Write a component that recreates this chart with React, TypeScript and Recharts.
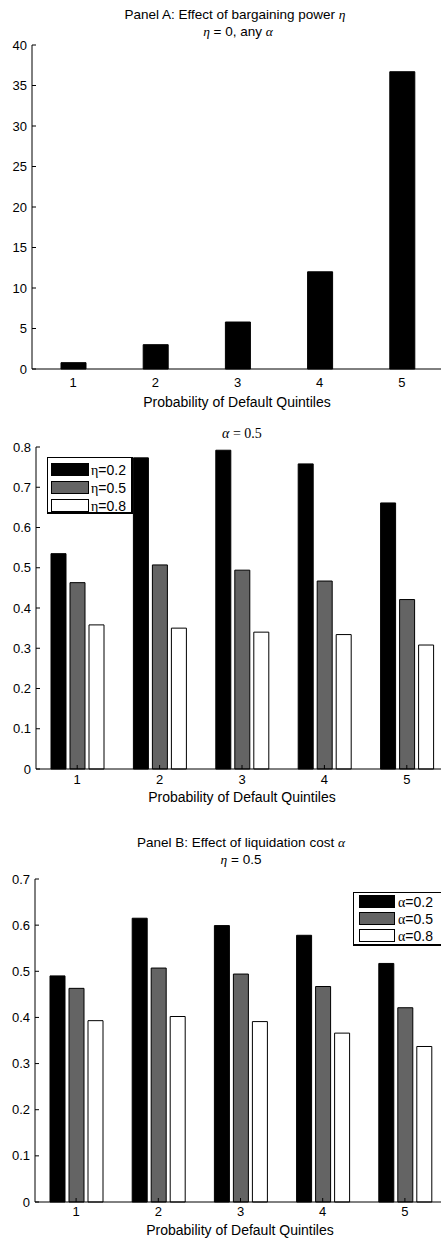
import React from "react";
import { BarChart, Bar, XAxis, YAxis } from "recharts";

const quintiles = ["1", "2", "3", "4", "5"];

// Panel A, top: eta = 0, any alpha
const etaZero = [0.78, 3.0, 5.8, 12.0, 36.7];

// Panel A, bottom: alpha = 0.5
const eta02 = [0.535, 0.773, 0.792, 0.758, 0.661];
const eta05 = [0.463, 0.507, 0.494, 0.467, 0.421];
const eta08 = [0.358, 0.35, 0.34, 0.334, 0.308];

// Panel B: eta = 0.5
const alpha02 = [0.49, 0.615, 0.599, 0.578, 0.517];
const alpha05 = [0.463, 0.507, 0.494, 0.467, 0.421];
const alpha08 = [0.393, 0.402, 0.391, 0.366, 0.337];

const ticksA = [0, 5, 10, 15, 20, 25, 30, 35, 40];
const ticksB = [0, 0.1, 0.2, 0.3, 0.4, 0.5, 0.6, 0.7, 0.8];
const ticksC = [0, 0.1, 0.2, 0.3, 0.4, 0.5, 0.6, 0.7];

const SANS = '"Liberation Sans", Arial, Helvetica, sans-serif';
const SERIF = '"Liberation Serif", "Times New Roman", serif';
const GRAY = "#646464";

const rowsA = quintiles.map((q, i) => ({ q, v: etaZero[i] }));
const rowsB = quintiles.map((q, i) => ({ q, a: eta02[i], b: eta05[i], c: eta08[i] }));
const rowsC = quintiles.map((q, i) => ({ q, a: alpha02[i], b: alpha05[i], c: alpha08[i] }));

type Series = { key: string; color: string };

const fmtDec = (v: number) => (v === 0 ? "0" : v.toFixed(1));

interface PanelProps {
  top: number;
  left: number;
  width: number;
  height: number;
  rows: any[];
  series: Series[];
  max: number;
  ticks: number[];
  barSize: number;
  barGap?: number;
  xMargin: number;
  fmt?: (v: number) => string;
}

const Panel = ({ top, left, width, height, rows, series, max, ticks, barSize, barGap = 4, xMargin, fmt }: PanelProps) => {
  const mt = 10;
  const xh = 24;
  const mb = 4;
  const tickStyle = { fill: "#000", fontSize: 13, fontFamily: SANS };
  return (
    <div style={{ position: "absolute", top: top - mt, left: 0 }}>
      <BarChart
        width={left + width + 10}
        height={mt + height + xh + mb}
        data={rows}
        margin={{ top: mt, right: 10, bottom: mb, left: 0 }}
        barSize={barSize}
        barGap={barGap}
      >
        <XAxis
          dataKey="q"
          xAxisId="b"
          orientation="bottom"
          height={xh}
          tickSize={-4}
          tickMargin={xMargin}
          stroke="#000"
          tick={tickStyle}
        />
        <XAxis
          dataKey="q"
          xAxisId="t"
          orientation="top"
          height={0}
          tickSize={-4}
          tickFormatter={() => ""}
          stroke="#000"
        />
        <YAxis
          yAxisId="l"
          width={left}
          domain={[0, max]}
          ticks={ticks}
          interval={0}
          tickSize={-4}
          tickMargin={9}
          stroke="#000"
          tick={tickStyle}
          tickFormatter={fmt}
        />
        <YAxis
          yAxisId="r"
          orientation="right"
          width={0}
          domain={[0, max]}
          ticks={ticks}
          interval={0}
          tickSize={-4}
          tickFormatter={() => ""}
          stroke="#000"
        />
        {series.map((s) => (
          <Bar
            key={s.key}
            xAxisId="b"
            yAxisId="l"
            dataKey={s.key}
            fill={s.color}
            stroke="#000"
            strokeWidth={1}
            isAnimationActive={false}
          />
        ))}
      </BarChart>
    </div>
  );
};

const Txt = ({ x, y, size = 13.5, family = SANS, children }: { x: number; y: number; size?: number; family?: string; children: React.ReactNode }) => (
  <div
    style={{
      position: "absolute",
      left: x,
      top: y,
      transform: "translate(-50%, -50%)",
      fontFamily: family,
      fontSize: size,
      lineHeight: 1,
      whiteSpace: "nowrap",
      color: "#000",
    }}
  >
    {children}
  </div>
);

const Sym = ({ children, italic = true }: { children: React.ReactNode; italic?: boolean }) => (
  <span style={{ fontFamily: SERIF, fontStyle: italic ? "italic" : "normal" }}>{children}</span>
);

interface LegendItem { sym: string; label: string; color: string }

const LegendBox = ({ left, top, width, height, rowY, swX, swW, txtX, items }: {
  left: number; top: number; width: number; height: number; rowY: number[]; swX: number; swW: number; txtX: number; items: LegendItem[];
}) => (
  <div
    style={{
      position: "absolute",
      left,
      top,
      width,
      height,
      boxSizing: "border-box",
      background: "#fff",
      borderTop: "1px solid #000",
      borderLeft: "1px solid #000",
      borderRight: "2px solid #000",
      borderBottom: "2px solid #000",
    }}
  >
    {items.map((it, i) => (
      <React.Fragment key={it.label}>
        <div
          style={{
            position: "absolute",
            left: swX,
            top: rowY[i] - 7,
            width: swW,
            height: 13,
            boxSizing: "border-box",
            background: it.color,
            border: "1px solid #000",
          }}
        />
        <div
          style={{
            position: "absolute",
            left: txtX,
            top: rowY[i] - 8,
            fontFamily: SANS,
            fontSize: 14,
            lineHeight: "16px",
            whiteSpace: "nowrap",
            color: "#000",
          }}
        >
          <Sym italic={false}>{it.sym}</Sym>
          {it.label}
        </div>
      </React.Fragment>
    ))}
  </div>
);

const three: Series[] = [
  { key: "a", color: "#000" },
  { key: "b", color: GRAY },
  { key: "c", color: "#fff" },
];

export default function App() {
  return (
    <div
      style={{
        position: "absolute",
        left: 0,
        top: 0,
        width: 441,
        height: 1243,
        overflow: "hidden",
        background: "#fff",
      }}
    >
      <Panel
        top={45}
        left={32}
        width={411}
        height={324}
        rows={rowsA}
        series={[{ key: "v", color: "#000" }]}
        max={40}
        ticks={ticksA}
        barSize={25}
        xMargin={13}
      />
      <Panel
        top={447}
        left={36}
        width={412}
        height={322}
        rows={rowsB}
        series={three}
        max={0.8}
        ticks={ticksB}
        barSize={15}
        barGap={4}
        xMargin={10}
        fmt={fmtDec}
      />
      <Panel
        top={879}
        left={35}
        width={411}
        height={323}
        rows={rowsC}
        series={three}
        max={0.7}
        ticks={ticksC}
        barSize={15}
        barGap={4}
        xMargin={9}
        fmt={fmtDec}
      />

      <Txt x={235} y={15}>
        Panel A: Effect of bargaining power <Sym>η</Sym>
      </Txt>
      <Txt x={238} y={32}>
        <Sym>η</Sym> = 0, any <Sym>α</Sym>
      </Txt>
      <Txt x={237} y={402} size={14}>Probability of Default Quintiles</Txt>

      <Txt x={242} y={434} size={14} family={SERIF}>
        <Sym>α</Sym> = 0.5
      </Txt>
      <Txt x={242} y={797} size={14}>Probability of Default Quintiles</Txt>

      <Txt x={241} y={843}>
        Panel B: Effect of liquidation cost <Sym>α</Sym>
      </Txt>
      <Txt x={241} y={860}>
        <Sym>η</Sym> = 0.5
      </Txt>
      <Txt x={240} y={1230} size={14}>Probability of Default Quintiles</Txt>

      <LegendBox
        left={47}
        top={457}
        width={86}
        height={57}
        rowY={[469, 487, 505].map((y) => y - 457)}
        swX={3}
        swW={38}
        txtX={43}
        items={[
          { sym: "η", label: "=0.2", color: "#000" },
          { sym: "η", label: "=0.5", color: GRAY },
          { sym: "η", label: "=0.8", color: "#fff" },
        ]}
      />
      <LegendBox
        left={353}
        top={892}
        width={112}
        height={54}
        rowY={[9, 26, 43]}
        swX={5}
        swW={36}
        txtX={44}
        items={[
          { sym: "α", label: "=0.2", color: "#000" },
          { sym: "α", label: "=0.5", color: GRAY },
          { sym: "α", label: "=0.8", color: "#fff" },
        ]}
      />
    </div>
  );
}
